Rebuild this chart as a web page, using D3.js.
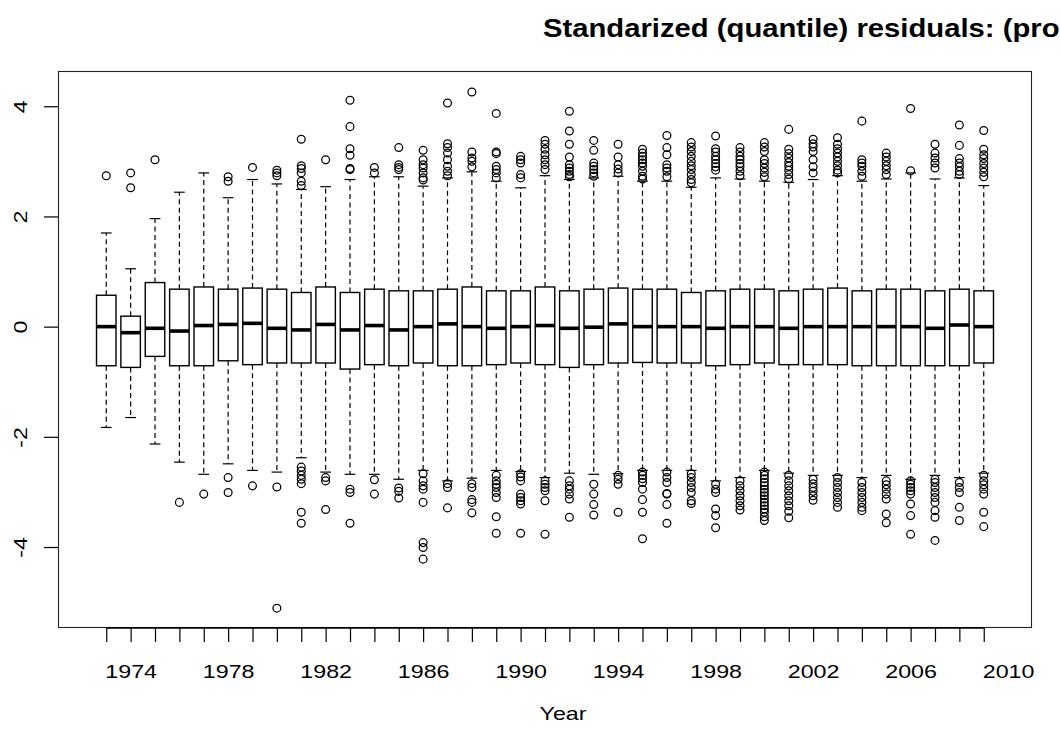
<!DOCTYPE html>
<html>
<head>
<meta charset="utf-8">
<script src="https://cdn.jsdelivr.net/npm/d3@7"></script>
<style>
  html, body { margin: 0; padding: 0; background: #fff; }
  svg { display: block; }
  text { font-family: "Liberation Sans", Arial, Helvetica, sans-serif; fill: #000; }
</style>
</head>
<body>
<svg id="chart" width="1060" height="740"></svg>
<script>
// ---------------- data ----------------
const years = [1973,1974,1975,1976,1977,1978,1979,1980,1981,1982,1983,1984,1985,1986,1987,1988,1989,1990,1991,1992,1993,1994,1995,1996,1997,1998,1999,2000,2001,2002,2003,2004,2005,2006,2007,2008,2009];
const labelYears = [1974,1978,1982,1986,1990,1994,1998,2002,2006,2010];
const yTicks = [-4,-2,0,2,4];

const medians = [0.00,-0.11,-0.03,-0.08,0.02,0.04,0.06,-0.03,-0.06,0.04,-0.06,0.02,-0.06,0.00,0.05,0.00,-0.03,0.00,0.02,-0.03,-0.01,0.05,0.00,0.00,0.00,-0.03,0.00,0.00,-0.03,0.00,0.00,0.00,0.00,0.00,-0.03,0.03,0.00];
const upperHinge = [0.57,0.19,0.80,0.68,0.72,0.68,0.70,0.68,0.62,0.72,0.62,0.68,0.65,0.65,0.68,0.72,0.65,0.65,0.72,0.65,0.68,0.70,0.68,0.68,0.62,0.65,0.68,0.68,0.65,0.68,0.70,0.65,0.68,0.68,0.65,0.68,0.65];
const lowerHinge = [-0.71,-0.74,-0.54,-0.71,-0.71,-0.62,-0.69,-0.66,-0.66,-0.66,-0.77,-0.69,-0.71,-0.66,-0.71,-0.71,-0.69,-0.66,-0.69,-0.74,-0.69,-0.66,-0.65,-0.66,-0.66,-0.71,-0.69,-0.66,-0.69,-0.69,-0.69,-0.71,-0.71,-0.71,-0.71,-0.71,-0.66];
const upperWhisker = [1.70,1.05,1.96,2.44,2.79,2.34,2.67,2.59,2.49,2.54,2.67,2.72,2.72,2.55,2.70,2.81,2.64,2.52,2.74,2.67,2.70,2.73,2.64,2.64,2.53,2.70,2.68,2.64,2.62,2.67,2.74,2.64,2.68,2.79,2.68,2.70,2.56];
const lowerWhisker = [-1.83,-1.65,-2.13,-2.46,-2.68,-2.49,-2.61,-2.64,-2.38,-2.64,-2.68,-2.68,-2.77,-2.61,-2.80,-2.75,-2.61,-2.63,-2.74,-2.66,-2.68,-2.67,-2.61,-2.61,-2.61,-2.80,-2.74,-2.61,-2.66,-2.70,-2.70,-2.74,-2.70,-2.77,-2.70,-2.74,-2.66];
const outliers = [
  [2.74],
  [2.79,2.52],
  [3.03],
  [-3.19],
  [-3.04],
  [2.72,2.64,-2.74,-3.01],
  [2.89,-2.89],
  [2.84,2.79,2.74,-2.91,-5.11],
  [3.40,2.92,2.87,2.79,2.64,2.56,-2.55,-2.62,-2.70,-2.77,-2.85,-3.37,-3.57],
  [3.03,-2.74,-2.80,-3.32],
  [4.11,3.63,3.23,3.11,2.87,2.85,-2.95,-3.01,-3.57],
  [2.89,2.79,-2.78,-3.04],
  [3.25,2.94,2.89,2.85,-2.93,-2.99,-3.11],
  [3.20,3.03,2.94,2.88,2.79,2.70,2.66,-2.67,-2.80,-2.89,-2.95,-3.19,-3.92,-4.01,-4.22],
  [4.06,3.32,3.25,3.15,3.03,2.91,2.82,2.74,-2.85,-2.92,-3.29],
  [4.26,3.17,3.06,3.00,2.90,-2.85,-2.92,-3.14,-3.19,-3.38],
  [3.87,3.17,3.14,2.91,2.85,2.79,2.70,-2.70,-2.80,-2.86,-2.92,-3.01,-3.10,-3.45,-3.75],
  [3.09,3.03,2.97,2.76,2.70,-2.67,-2.73,-2.80,-3.04,-3.10,-3.16,-3.22,-3.75],
  [3.38,3.31,3.22,3.12,3.03,2.94,2.85,-2.80,-2.86,-2.92,-2.98,-3.16,-3.77],
  [3.91,3.55,3.31,3.08,2.94,2.88,2.82,2.76,2.72,-2.80,-2.89,-2.95,-3.04,-3.13,-3.46],
  [3.38,3.20,2.97,2.91,2.85,2.79,2.73,-2.86,-3.04,-3.23,-3.42],
  [3.31,3.08,2.94,2.86,2.79,-2.70,-2.77,-2.86,-3.37],
  [3.22,3.15,3.09,3.03,2.97,2.91,2.82,2.73,2.68,-2.64,-2.70,-2.76,-2.83,-2.95,-3.14,-3.37,-3.85],
  [3.47,3.25,3.12,2.94,2.88,2.82,2.72,-2.64,-2.74,-2.83,-3.03,-3.04,-3.23,-3.57],
  [3.34,3.26,3.18,3.09,3.00,2.92,2.85,2.76,2.67,2.61,-2.67,-2.74,-2.83,-2.92,-3.01,-3.16,-3.21],
  [3.46,3.23,3.17,3.09,3.03,2.96,2.90,2.84,-2.86,-2.95,-3.01,-3.31,-3.43,-3.65],
  [3.25,3.17,3.09,3.03,2.96,2.90,2.82,2.74,-2.80,-2.89,-2.98,-3.07,-3.16,-3.25,-3.33],
  [3.34,3.26,3.18,3.03,2.96,2.88,2.80,2.72,-2.64,-2.70,-2.76,-2.83,-2.89,-2.95,-3.01,-3.07,-3.13,-3.19,-3.25,-3.31,-3.37,-3.45,-3.52],
  [3.58,3.22,3.14,3.06,2.98,2.91,2.84,2.76,2.68,-2.70,-2.80,-2.89,-2.98,-3.07,-3.16,-3.25,-3.35,-3.47],
  [3.40,3.32,3.26,3.18,3.03,2.90,2.79,-2.77,-2.85,-2.92,-2.99,-3.07,-3.15],
  [3.43,3.31,3.23,3.15,3.08,3.00,2.92,2.84,2.79,-2.74,-2.83,-2.92,-3.01,-3.10,-3.19,-3.28],
  [3.73,3.03,2.97,2.91,2.82,2.73,-2.83,-2.92,-3.01,-3.10,-3.19,-3.28,-3.34],
  [3.15,3.08,3.00,2.92,2.85,2.76,-2.80,-2.87,-2.95,-3.04,-3.13,-3.40,-3.56],
  [3.96,2.83,-2.80,-2.86,-2.92,-2.98,-3.04,-3.22,-3.43,-3.77],
  [3.31,3.15,3.06,2.97,2.88,-2.77,-2.83,-2.92,-3.01,-3.10,-3.19,-3.34,-3.46,-3.88],
  [3.66,3.29,3.05,2.97,2.90,2.82,2.76,-2.83,-2.92,-3.01,-3.28,-3.52],
  [3.56,3.22,3.12,3.05,2.96,2.88,2.80,2.72,-2.70,-2.80,-2.87,-2.95,-3.04,-3.37,-3.63]
];
const titleText = "Standarized (quantile) residuals: (pro";
const xLabel = "Year";

// ---------------- layout ----------------
const svg = d3.select("#chart");
const plot = { left: 58, right: 1032, top: 71, bottom: 628 };
const x = d3.scaleLinear().domain([1971.02, 2010.98]).range([plot.left, plot.right]);
const y = d3.scaleLinear().domain([-5.47, 4.64]).range([plot.bottom, plot.top]);
const boxHalf = (x(1) - x(0)) * 0.4;
const stapleHalf = boxHalf * 0.55;
const stretch = 1.25;
const fs = 18.6;

const rows = years.map((yr, i) => ({
  yr, med: medians[i], q3: upperHinge[i], q1: lowerHinge[i],
  hi: upperWhisker[i], lo: lowerWhisker[i], out: outliers[i]
}));

const g = svg.append("g");

// whiskers (dashed)
g.selectAll("line.wu").data(rows).join("line")
  .attr("x1", d => x(d.yr)).attr("x2", d => x(d.yr))
  .attr("y1", d => y(d.q3)).attr("y2", d => y(d.hi))
  .attr("stroke", "#000").attr("stroke-width", 1.2).attr("stroke-dasharray", "5,3.5");
g.selectAll("line.wl").data(rows).join("line")
  .attr("x1", d => x(d.yr)).attr("x2", d => x(d.yr))
  .attr("y1", d => y(d.q1)).attr("y2", d => y(d.lo))
  .attr("stroke", "#000").attr("stroke-width", 1.2).attr("stroke-dasharray", "5,3.5");
// staples
g.selectAll("line.su").data(rows).join("line")
  .attr("x1", d => x(d.yr) - stapleHalf).attr("x2", d => x(d.yr) + stapleHalf)
  .attr("y1", d => y(d.hi)).attr("y2", d => y(d.hi))
  .attr("stroke", "#000").attr("stroke-width", 1.2);
g.selectAll("line.sl").data(rows).join("line")
  .attr("x1", d => x(d.yr) - stapleHalf).attr("x2", d => x(d.yr) + stapleHalf)
  .attr("y1", d => y(d.lo)).attr("y2", d => y(d.lo))
  .attr("stroke", "#000").attr("stroke-width", 1.2);
// boxes
g.selectAll("rect.box").data(rows).join("rect")
  .attr("x", d => x(d.yr) - boxHalf).attr("width", boxHalf * 2)
  .attr("y", d => y(d.q3)).attr("height", d => y(d.q1) - y(d.q3))
  .attr("fill", "#fff").attr("stroke", "#000").attr("stroke-width", 1.4);
// medians
g.selectAll("line.med").data(rows).join("line")
  .attr("x1", d => x(d.yr) - boxHalf).attr("x2", d => x(d.yr) + boxHalf)
  .attr("y1", d => y(d.med)).attr("y2", d => y(d.med))
  .attr("stroke", "#000").attr("stroke-width", 3.6);
// outliers
const pts = rows.flatMap(d => d.out.map(v => ({ yr: d.yr, v })));
g.selectAll("circle.out").data(pts).join("circle")
  .attr("cx", d => x(d.yr)).attr("cy", d => y(d.v)).attr("r", 3.9)
  .attr("fill", "none").attr("stroke", "#000").attr("stroke-width", 1.25);

// frame
svg.append("rect")
  .attr("x", plot.left + 0.5).attr("y", plot.top + 0.5)
  .attr("width", plot.right - plot.left - 1).attr("height", plot.bottom - plot.top - 1)
  .attr("fill", "none").attr("stroke", "#222").attr("stroke-width", 1.1);

// x axis ticks (every year)
const xTicksG = svg.append("g").attr("transform", `translate(0,${plot.bottom})`)
  .call(d3.axisBottom(x).tickValues(years).tickSize(14).tickFormat(""));
xTicksG.select(".domain").remove();
xTicksG.selectAll("line").attr("stroke", "#000").attr("stroke-width", 1.2);
svg.append("line")
  .attr("x1", x(years[0])).attr("x2", x(years[years.length - 1]))
  .attr("y1", plot.bottom).attr("y2", plot.bottom)
  .attr("stroke", "#000").attr("stroke-width", 1.6);

// x axis labels
const xLabG = svg.append("g").attr("transform", `translate(0,${plot.bottom})`)
  .call(d3.axisBottom(x).tickValues(labelYears).tickSize(0).tickPadding(37).tickFormat(d => String(d)));
xLabG.select(".domain").remove();
xLabG.attr("font-family", null).attr("font-size", null);
xLabG.selectAll("text")
  .style("font-size", fs + "px")
  .attr("transform", `scale(${stretch},1)`);

// y axis
const yAx = svg.append("g").attr("transform", `translate(${plot.left},0)`)
  .call(d3.axisLeft(y).tickValues(yTicks).tickSize(14).tickFormat(d => String(d)));
yAx.select(".domain").remove();
yAx.attr("font-family", null).attr("font-size", null);
yAx.selectAll("line").attr("stroke", "#000").attr("stroke-width", 1.2);
yAx.selectAll("text")
  .style("font-size", fs + "px")
  .attr("x", null).attr("dy", null)
  .attr("text-anchor", "middle")
  .attr("transform", `translate(-31,0) rotate(-90) scale(${stretch},1)`);

// axis title
svg.append("text")
  .attr("transform", `translate(563,720) scale(${stretch},1)`)
  .attr("text-anchor", "middle")
  .style("font-size", fs + "px")
  .text(xLabel);

// main title (clipped at the right edge, as in the reference)
svg.append("text")
  .attr("transform", `translate(543,37) scale(1.125,1)`)
  .attr("text-anchor", "start")
  .style("font-size", "26px").style("font-weight", "bold")
  .text(titleText);
</script>
</body>
</html>
